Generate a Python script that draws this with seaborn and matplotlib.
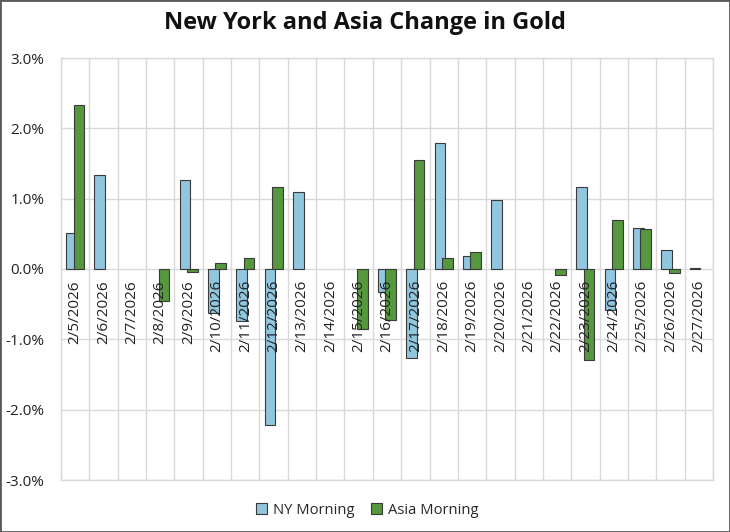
import numpy as np
import pandas as pd
import matplotlib
matplotlib.use('Agg')
import matplotlib.pyplot as plt
import seaborn as sns
from matplotlib.ticker import FuncFormatter, MultipleLocator
from matplotlib.patches import Rectangle
from matplotlib.transforms import offset_copy

dates = ['2/5/2026', '2/6/2026', '2/7/2026', '2/8/2026', '2/9/2026', '2/10/2026',
         '2/11/2026', '2/12/2026', '2/13/2026', '2/14/2026', '2/15/2026', '2/16/2026',
         '2/17/2026', '2/18/2026', '2/19/2026', '2/20/2026', '2/21/2026', '2/22/2026',
         '2/23/2026', '2/24/2026', '2/25/2026', '2/26/2026', '2/27/2026']
# % change, NaN = no quote that day
ny_morning = [0.51, 1.34, np.nan, np.nan, 1.26, -0.63,
              -0.74, -2.22, 1.09, np.nan, np.nan, -0.33,
              -1.27, 1.79, 0.18, 0.98, np.nan, np.nan,
              1.17, -0.59, 0.59, 0.27, 0.015]
asia_morning = [2.33, np.nan, np.nan, -0.46, -0.04, 0.08,
                0.16, 1.16, np.nan, np.nan, -0.86, -0.73,
                1.55, 0.16, 0.24, np.nan, np.nan, -0.08,
                -1.29, 0.70, 0.57, -0.06, np.nan]

df = pd.DataFrame({'date': dates, 'NY Morning': ny_morning, 'Asia Morning': asia_morning})
long = df.melt(id_vars='date', var_name='series', value_name='chg').dropna()

sns.set_style('white')
plt.rcParams['font.family'] = ['Open Sans', 'DejaVu Sans']

fig = plt.figure(figsize=(7.3, 5.32), dpi=100)
ax = fig.add_axes([61/730, 1 - 480/532, (713-61)/730, (480-58)/532])

sns.barplot(data=long, x='date', y='chg', hue='series', order=dates,
            hue_order=['NY Morning', 'Asia Morning'],
            palette=['#83CBEB', '#4EA72E'], width=0.52, gap=-0.45,
            edgecolor='#3a3a3a', linewidth=0.8, ax=ax)

grid_c = '#d9d9d9'
ax.set_ylim(-3, 3)
ax.set_xlim(-0.5, len(dates) - 0.5)
ax.yaxis.set_major_locator(MultipleLocator(1))
ax.yaxis.set_major_formatter(FuncFormatter(lambda v, p: f'{v:.1f}%'))
ax.set_xticks(np.arange(len(dates) + 1) - 0.5, minor=True)
ax.grid(True, axis='y', which='major', color=grid_c, linewidth=1)
ax.grid(True, axis='x', which='minor', color=grid_c, linewidth=1)
ax.grid(False, axis='x', which='major')
ax.set_axisbelow(True)

for s in ax.spines.values():
    s.set_color(grid_c)
    s.set_linewidth(1)

# category labels sit just under the zero line, drawn over the bars
ax.tick_params(axis='x', which='both', length=0, labelbottom=False)
lab_tr = offset_copy(ax.transData, fig=fig, x=0, y=-8, units='points')
for i, d in enumerate(dates):
    ax.text(i, 0, d, transform=lab_tr, rotation=90, ha='center', va='top',
            fontsize=11, color='#222222', zorder=5)

ax.tick_params(axis='y', length=0, pad=12, labelsize=11, colors='#222222')
ax.set_xlabel('')
ax.set_ylabel('')

ax.legend(loc='center', bbox_to_anchor=(0.503, 1 - 510/532), bbox_transform=fig.transFigure,
          ncol=2, frameon=False, fontsize=10.6, handlelength=0.75, handleheight=0.75,
          handletextpad=0.4, columnspacing=1.1)

fig.suptitle('New York and Asia Change in Gold', y=1 - 23/532, va='center',
             fontsize=17, fontweight='bold', color='#111111')

fig.patches.append(Rectangle((0, 0), 1, 1, transform=fig.transFigure, fill=False,
                             edgecolor='#595959', linewidth=2))

fig.savefig('out.png', dpi=100)
